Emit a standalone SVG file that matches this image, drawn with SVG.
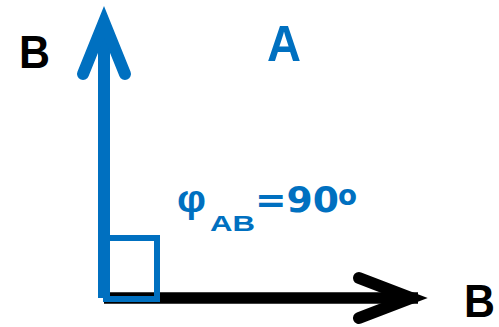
<svg xmlns="http://www.w3.org/2000/svg" width="499" height="327" viewBox="0 0 499 327">
<style>
.lbl{font-family:"Liberation Sans",Arial,sans-serif;font-weight:bold}
.ang{font-family:"DejaVu Sans",Verdana,sans-serif;font-weight:bold;fill:#0070C0}
.blue{fill:#0070C0}
.blk{fill:#000}
.arrB{fill:none;stroke:#0070C0;stroke-width:12;stroke-linecap:round;stroke-linejoin:miter;stroke-miterlimit:6}
.arrK{fill:none;stroke:#000;stroke-width:12;stroke-linecap:round;stroke-linejoin:miter;stroke-miterlimit:6}
</style>
<rect width="499" height="327" fill="#fff"/>
<g id="connectors">
  <line x1="104" y1="298" x2="418" y2="298" stroke="#000" stroke-width="11.5"/>
  <polyline class="arrK" points="359,278 411,298 359,318"/>
  <line x1="104" y1="298" x2="104" y2="25" stroke="#0070C0" stroke-width="12"/>
  <polyline class="arrB" points="83,74 104,22 125,74"/>
</g>
<g id="right-angle">
  <rect x="106" y="238" width="51" height="61" fill="none" stroke="#0070C0" stroke-width="6"/>
</g>
<g id="label-B-left">
  <text class="lbl blk" x="19" y="68" font-size="47" textLength="31" lengthAdjust="spacingAndGlyphs">B</text>
</g>
<g id="label-A">
  <text class="lbl blue" x="267" y="61" font-size="50" textLength="34" lengthAdjust="spacingAndGlyphs">A</text>
</g>
<g id="label-B-right">
  <text class="lbl blk" x="464" y="317" font-size="46" textLength="31" lengthAdjust="spacingAndGlyphs">B</text>
</g>
<g id="label-angle">
  <text class="lbl blue" x="177" y="212" font-size="38" textLength="29" lengthAdjust="spacingAndGlyphs">φ</text>
  <text class="lbl blue" x="210" y="231" font-size="22" textLength="45" lengthAdjust="spacingAndGlyphs">AB</text>
  <text class="ang" x="255" y="212" font-size="36" textLength="84" lengthAdjust="spacingAndGlyphs">=90</text>
  <text class="ang" x="338" y="205" font-size="28" textLength="19" lengthAdjust="spacingAndGlyphs">o</text>
</g>
</svg>
